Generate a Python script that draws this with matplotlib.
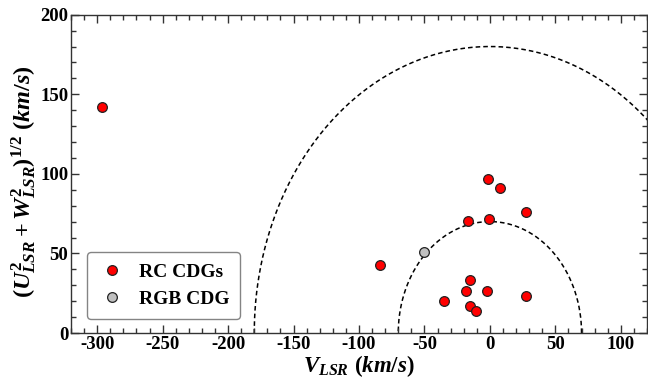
import numpy as np
import matplotlib
matplotlib.use("Agg")
import matplotlib.pyplot as plt

plt.rcParams['mathtext.fontset'] = 'custom'
plt.rcParams['mathtext.rm'] = 'Liberation Serif:bold'
plt.rcParams['mathtext.it'] = 'Liberation Serif:italic:bold'
plt.rcParams['mathtext.bf'] = 'Liberation Serif:bold'
plt.rcParams['font.family'] = 'Liberation Serif'
plt.rcParams['font.weight'] = 'bold'

# Data
rc_v = [-296, -1.5, 7.9, 27.5, -17, -0.8, -84.2, -15.3, -18.6, -2.3, -35.1, 27.2, -15.5, -10.5]
rc_uw = [142, 96.7, 91, 76, 70.4, 71.7, 43, 33.5, 26.2, 26.6, 20.1, 23.1, 16.8, 14]
rgb_v = [-50.4]
rgb_uw = [50.7]
radii = [70, 180]
xtick_vals = [-300, -250, -200, -150, -100, -50, 0, 50, 100]
xtick_labels = ['-300', '-250', '-200', '-150', '-100', '-50', '0', '50', '100']
ytick_vals = [0, 50, 100, 150, 200]

fig = plt.figure(figsize=(6.48, 3.79), dpi=100)
ax = fig.add_axes([71/648, 46/379, 576/648, 318.3/379])

theta = np.linspace(0, np.pi, 400)
for r in radii:
    ax.plot(r*np.cos(theta), r*np.sin(theta), ls=(0, (3, 2)), color='black', lw=1.1, zorder=1)

ax.plot(rc_v, rc_uw, 'o', ms=7, mfc='#ff0000', mec='#222222', mew=0.9, ls='none', label='RC CDGs', zorder=3)
ax.plot(rgb_v, rgb_uw, 'o', ms=7, mfc='#c0c0c0', mec='#222222', mew=0.9, ls='none', label='RGB CDG', zorder=3)

ax.set_xlim(-320, 120)
ax.set_ylim(0, 200)
ax.set_xticks(xtick_vals)
ax.set_xticklabels(xtick_labels)
ax.set_yticks(ytick_vals)
ax.set_xticks(np.arange(-320, 121, 10), minor=True)
ax.set_yticks(np.arange(0, 201, 10), minor=True)
ax.tick_params(which='both', direction='in', top=True, right=True, colors='#333333', labelcolor='black')
ax.tick_params(which='major', length=6, width=1, labelsize=13.5, pad=2)
ax.tick_params(which='minor', length=3.5, width=1)
for lab in ax.get_xticklabels() + ax.get_yticklabels():
    lab.set_fontweight('bold')
for s in ax.spines.values():
    s.set_color('#333333')
    s.set_linewidth(1)

ax.set_xlabel(r'$V_{LSR}\ (km/s)$', fontsize=16.5, labelpad=0)
ax.set_ylabel(r'$(U^2_{LSR} + W^2_{LSR})^{1/2}\ (km/s)$', fontsize=17.5)
ax.yaxis.set_label_coords(-0.056, 0.475)

leg = ax.legend(loc='lower left', bbox_to_anchor=(0.028, 0.045), frameon=True, fancybox=True,
                prop={'family': 'Liberation Serif', 'weight': 'bold', 'size': 14},
                handletextpad=0.6, borderpad=0.55, labelspacing=0.5, handlelength=1.5, borderaxespad=0)
leg.get_frame().set_edgecolor('#666666')
leg.get_frame().set_linewidth(1)

fig.savefig('out.png', dpi=100)
